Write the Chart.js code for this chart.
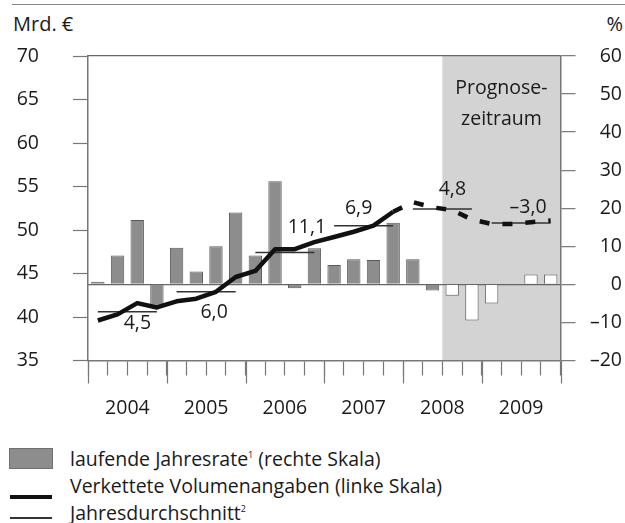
<!DOCTYPE html>
<html>
<head>
<meta charset="utf-8">
<script src="https://cdn.jsdelivr.net/npm/chart.js@4/dist/chart.umd.min.js"></script>
<style>
  body { margin: 0; width: 625px; height: 523px; background: #fff; overflow: hidden; font-family: "Open Sans", sans-serif; color: #1a1a1a; }
  #wrap { position: absolute; left: 0; top: 0; width: 625px; height: 440px; }
  .topline { position: absolute; left: 12px; top: 4px; width: 613px; height: 0; border-top: 1.5px solid #888; }
  .unit { position: absolute; top: 12px; font-size: 20px; line-height: 24px; }
  .legend { position: absolute; left: 0; top: 0; font-size: 19.5px; }
  .row { position: absolute; left: 70px; white-space: nowrap; line-height: 28px; }
  .row sup { font-size: 9px; vertical-align: 8px; line-height: 0; }
  .key { position: absolute; }
</style>
</head>
<body>
<div class="topline"></div>
<div class="unit" style="left:13px">Mrd. €</div>
<div class="unit" style="right:2px">%</div>
<div id="wrap"><canvas id="chart"></canvas></div>
<div class="legend">
  <div class="key" style="left:9px;top:448px;width:42px;height:19px;background:#8d8d8d;border:1px solid #707070"></div>
  <div class="row" style="top:445px">laufende Jahresrate<sup>1</sup> (rechte Skala)</div>
  <div class="key" style="left:10px;top:495px;width:42px;height:4px;background:#111"></div>
  <div class="row" style="top:472px">Verkettete Volumenangaben (linke Skala)</div>
  <div class="key" style="left:10px;top:517px;width:42px;height:1.5px;background:#333"></div>
  <div class="row" style="top:499px">Jahresdurchschnitt<sup>2</sup></div>
</div>
<script>
const years = ['2004', '2005', '2006', '2007', '2008', '2009'];
// laufende Jahresrate in %, one value per quarter 2004 Q1 .. 2009 Q4
const jahresrate = [0.7, 7.6, 16.9, -5.6, 9.6, 3.4, 10.0, 18.9, 7.6, 27.1, -1.0, 9.5,
                    5.1, 6.6, 6.4, 16.2, 6.6, -1.6, -3.0, -9.5, -5.0, 0, 2.6, 2.6];
// verkettete Volumenangaben, Mrd. Euro
const volumen = [39.6, 40.3, 41.6, 41.1, 41.8, 42.1, 42.9, 44.6, 45.3, 47.8, 47.8, 48.6,
                 49.2, 49.8, 50.5, 52.1, 53.2, 52.6, 52.3, 51.2, 50.7, 50.7, 50.9, 51.1];
const jahresdurchschnitt = [40.6, 42.9, 47.4, 50.5, 52.4, 50.8];
const wachstum = ['4,5', '6,0', '11,1', '6,9', '4,8', '\u20133,0'];
const prognoseStart = 18;   // first quarter drawn as forecast bar / grey area
const dashedFrom = 15;      // line is dashed from this quarter on

const leftTicks = [35, 40, 45, 50, 55, 60, 65, 70];
const rightTicks = [-20, -10, 0, 10, 20, 30, 40, 50, 60];

// label offsets in px, relative to the middle of the year and its average line
const labelOffsets = [[10, 12], [8, 21], [22, -25], [-5, -17], [10, -20], [7, -16]];

const FONT = { family: 'Open Sans', size: 19.5 };
const TXT = '#1a1a1a';
const AXIS = '#777';

const barData = jahresrate.map((v, i) => ({ x: i + 0.5, y: v }));
const lineData = volumen.map((v, i) => ({ x: i + 0.5, y: v }));
const avgData = [];
jahresdurchschnitt.forEach((v, i) => {
  avgData.push({ x: i * 4 + 0.5, y: v }, { x: i * 4 + 3.5, y: v }, { x: i * 4 + 4, y: null });
});

const extras = {
  id: 'extras',
  beforeDraw(chart) {
    const { ctx, chartArea, scales } = chart;
    const x0 = scales.x.getPixelForValue(prognoseStart);
    const x1 = scales.x.getPixelForValue(years.length * 4);
    ctx.save();
    ctx.fillStyle = '#d3d3d3';
    ctx.fillRect(x0, chartArea.top, x1 - x0, chartArea.bottom - chartArea.top);
    ctx.fillStyle = TXT;
    ctx.font = '19.5px "Open Sans"';
    ctx.textAlign = 'center';
    ctx.textBaseline = 'alphabetic';
    ctx.fillText('Prognose-', (x0 + x1) / 2, chartArea.top + 38);
    ctx.fillText('zeitraum', (x0 + x1) / 2, chartArea.top + 69);
    ctx.restore();
  },
  afterDraw(chart) {
    const { ctx, scales } = chart;
    const x = scales.x, y = scales.y;
    ctx.save();
    // longer tick marks at year boundaries
    ctx.strokeStyle = AXIS;
    ctx.lineWidth = 1.2;
    for (let q = 0; q <= years.length * 4; q += 4) {
      const px = Math.round(x.getPixelForValue(q)) + 0.5;
      ctx.beginPath();
      ctx.moveTo(px, x.top);
      ctx.lineTo(px, x.top + 23);
      ctx.stroke();
    }
    // annual growth labels
    ctx.fillStyle = TXT;
    ctx.font = '19.5px "Open Sans"';
    ctx.textAlign = 'center';
    ctx.textBaseline = 'middle';
    wachstum.forEach((t, i) => {
      const px = x.getPixelForValue(i * 4 + 2) + labelOffsets[i][0];
      const py = y.getPixelForValue(jahresdurchschnitt[i]) + labelOffsets[i][1];
      ctx.fillText(t, px, py);
    });
    ctx.restore();
  }
};

new Chart(document.getElementById('chart'), {
  type: 'bar',
  data: {
    datasets: [
      {
        type: 'line',
        label: 'Verkettete Volumenangaben (linke Skala)',
        data: lineData,
        yAxisID: 'y',
        borderColor: '#111',
        borderWidth: 4.5,
        borderCapStyle: 'butt',
        borderJoinStyle: 'round',
        pointRadius: 0,
        tension: 0,
        order: 1,
        segment: {
          borderDash: c => c.p0DataIndex >= dashedFrom ? [10, 13] : undefined
        }
      },
      {
        type: 'line',
        label: 'Jahresdurchschnitt',
        data: avgData,
        yAxisID: 'y',
        borderColor: '#333',
        borderWidth: 1.5,
        pointRadius: 0,
        spanGaps: false,
        order: 2
      },
      {
        label: 'laufende Jahresrate (rechte Skala)',
        data: barData,
        yAxisID: 'y2',
        backgroundColor: jahresrate.map((v, i) => i < prognoseStart ? '#8d8d8d' : '#ffffff'),
        borderColor: jahresrate.map((v, i) => i < prognoseStart ? '#5a5a5a' : '#666'),
        borderWidth: 1,
        barPercentage: 0.68,
        categoryPercentage: 1,
        order: 3
      }
    ]
  },
  options: {
    responsive: true,
    maintainAspectRatio: false,
    animation: false,
    layout: { padding: { top: 56, right: 3, bottom: 0, left: 0 } },
    plugins: { legend: { display: false }, tooltip: { enabled: false } },
    scales: {
      x: {
        type: 'linear',
        min: 0,
        max: years.length * 4,
        offset: false,
        afterFit: s => { s.height = 79.5; },
        afterBuildTicks: s => { s.ticks = Array.from({ length: years.length * 4 + 1 }, (_, i) => ({ value: i })); },
        grid: { drawOnChartArea: false, offset: false, tickLength: 15, tickColor: AXIS, tickWidth: 1.2 },
        border: { color: AXIS, width: 1.5 },
        ticks: {
          autoSkip: false,
          maxRotation: 0,
          padding: 21,
          color: TXT,
          font: FONT,
          callback: v => v % 4 === 2 ? years[(v - 2) / 4] : ''
        }
      },
      y: {
        position: 'left',
        min: 35,
        max: 70,
        afterFit: s => { s.width = 88; },
        afterBuildTicks: s => { s.ticks = leftTicks.map(v => ({ value: v })); },
        grid: { drawOnChartArea: false, tickLength: 15, tickColor: AXIS, tickWidth: 1.2 },
        border: { color: AXIS, width: 1.5 },
        ticks: { padding: 34, color: TXT, font: FONT }
      },
      y2: {
        position: 'right',
        min: -20,
        max: 60,
        afterFit: s => { s.width = 61.5; },
        afterBuildTicks: s => { s.ticks = rightTicks.map(v => ({ value: v })); },
        grid: {
          drawOnChartArea: true,
          color: c => (c.tick && (c.tick.value === 0 || c.tick.value === 60)) ? '#666' : 'rgba(0,0,0,0)',
          lineWidth: 1.3,
          tickLength: 15,
          tickColor: AXIS,
          tickWidth: 1.2
        },
        border: { color: AXIS, width: 1.5 },
        ticks: {
          crossAlign: 'far',
          color: TXT,
          font: FONT,
          callback: v => String(v).replace('-', '\u2013')
        }
      }
    }
  },
  plugins: [extras]
});
</script>
</body>
</html>
